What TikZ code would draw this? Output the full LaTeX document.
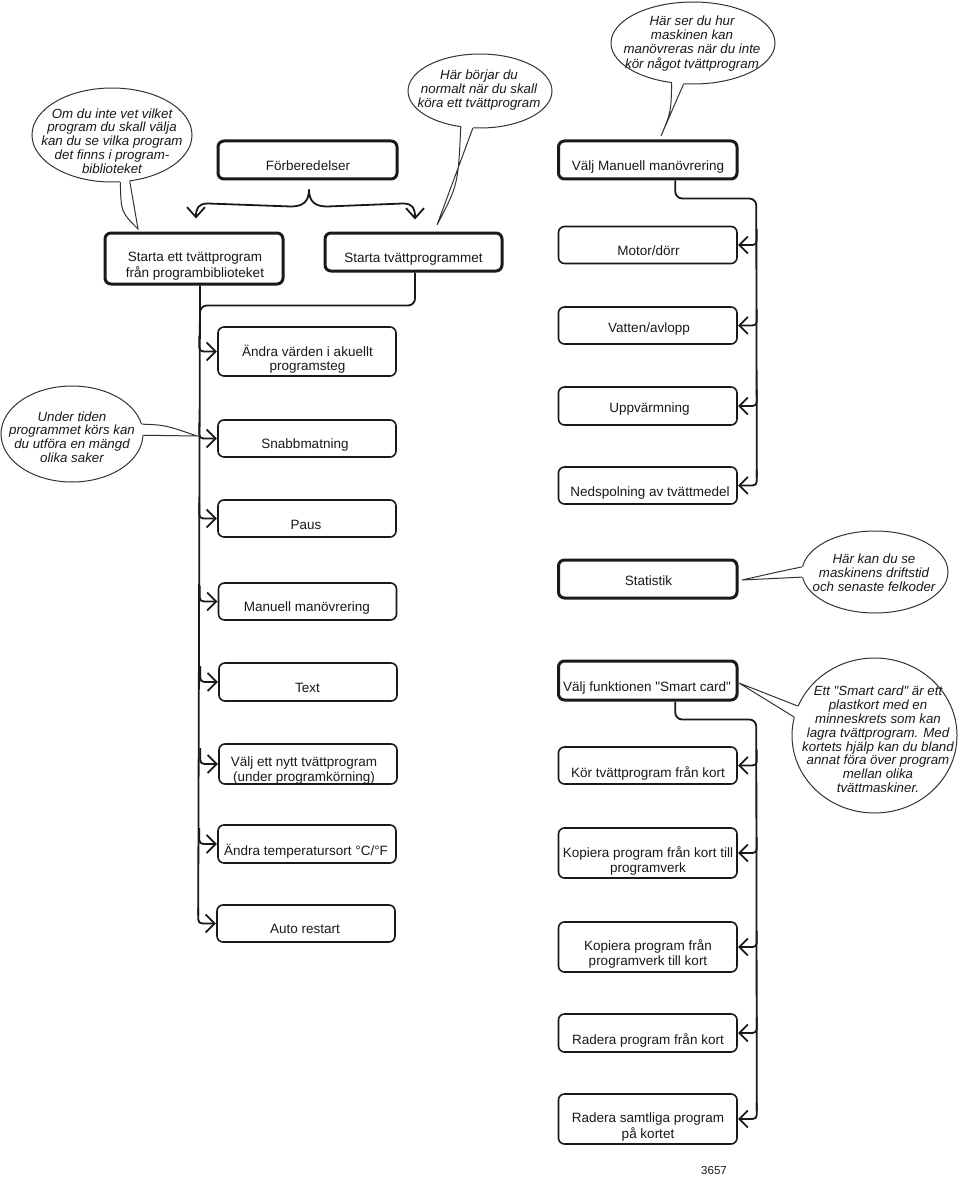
\documentclass[tikz,border=0pt]{standalone}
\usepackage{fontspec}
\setmainfont{Liberation Sans}[Ligatures=TeXOff]
\usetikzlibrary{arrows.meta,shapes.geometric,calc}
\tikzset{
  box/.style={draw=black!90, line width=1.6pt, rounded corners=6pt, minimum width=178.5pt, minimum height=37pt, inner sep=0pt, fill=white},
  boxthick/.style={box, line width=3pt},
  lbl/.style={inner sep=0pt, align=center, font=\fontsize{13.5}{13.8}\selectfont, text=black!90},
  btxt/.style={inner sep=0pt, align=center, font=\fontsize{13.3}{13.8}\selectfont\itshape, text=black!90},
  bub/.style={ellipse, draw=black!80, line width=1pt, fill=white, inner sep=0pt},
  bubline/.style={draw=black!80, line width=1pt},
  conn/.style={draw=black!90, line width=1.8pt, rounded corners=7pt},
  plain/.style={draw=black!90, line width=1.8pt},
  tipline/.style={draw=black!90, line width=1.8pt, line join=miter},
  arr/.style={draw=black!90, line width=1.8pt, -{Straight Barb[length=10pt,width=18pt]}},
}
\newcommand{\bubtail}[5]{%
  \fill[white] (#1.#2) -- (#4) -- (#1.#3) -- ($(#1.#3)!0.25!(#1.center)$) -- ($(#1.#2)!0.25!(#1.center)$) -- cycle;
  \draw[bubline] (#1.#2) .. controls (#5) .. (#4) -- (#1.#3);
}
\newcommand{\rbranch}[1]{%
  \draw[plain] ($(#1.east)+(19,-16)$) -- ($(#1.east)+(19,-9)$) .. controls ($(#1.east)+(19,0)$) .. ($(#1.east)+(10,0)$) -- ($(#1.east)+(1.5,0)$);
  \draw[tipline] ($(#1.east)+(10,-8.5)$) -- ($(#1.east)+(1.5,0)$) -- ($(#1.east)+(10,8.5)$);}
\newcommand{\lbranch}[1]{%
  \draw[plain] ($(#1.west)+(-18,-16)$) -- ($(#1.west)+(-18,-9)$) .. controls ($(#1.west)+(-18,0)$) .. ($(#1.west)+(-9,0)$) -- ($(#1.west)+(-1.5,0)$);
  \draw[tipline] ($(#1.west)+(-10.5,-9)$) -- ($(#1.west)+(-1.5,0)$) -- ($(#1.west)+(-10.5,9)$);}
\begin{document}
\begin{tikzpicture}[x=1pt,y=-1pt]
\fill[white] (0,0) rectangle (960,1177);
\useasboundingbox (0,0) rectangle (960,1177);

% ---------- speech bubbles ----------
\node[bub, minimum width=160pt, minimum height=94pt] (q1) at (112,135) {};
\coordinate (q1t) at (138,229);
\bubtail{q1}{280}{291}{q1t}{121,212}
\node[btxt] (q1x) at (112,143) {\strut Om du inte vet vilket\\\strut program du skall välja\\\strut kan du se vilka program\\\strut det finns i program-\\\strut biblioteket};

\node[bub, minimum width=144pt, minimum height=74pt] (q2) at (480,91) {};
\coordinate (q2t) at (437,225);
\bubtail{q2}{242}{259}{q2t}{458,185}
\node[btxt] (q2x) at (479,91) {\strut Här börjar du\\\strut normalt när du skall\\\strut köra ett tvättprogram};

\node[bub, minimum width=164pt, minimum height=82pt] (q3) at (693,43) {};
\coordinate (q3t) at (661,136);
\bubtail{q3}{242}{257.5}{q3t}{671,112}
\node[btxt] (q3x) at (692,44.5) {\strut Här ser du hur\\\strut maskinen kan\\\strut manövreras när du inte\\\strut kör något tvättprogram};

\node[bub, minimum width=142pt, minimum height=96pt] (q4) at (72,434) {};
\coordinate (q4t) at (197,436);
\bubtail{q4}{8}{-1}{q4t}{165,425}
\node[btxt] (q4x) at (72,439) {\strut Under tiden\\\strut programmet körs kan\\\strut du utföra en mängd\\\strut olika saker};

\node[bub, minimum width=146pt, minimum height=82pt] (q5) at (875,572) {};
\coordinate (q5t) at (742,580);
\bubtail{q5}{176.5}{184.7}{q5t}{782,571}
\node[btxt] (q5x) at (874,575) {\strut Här kan du se\\\strut maskinens driftstid\\\strut och senaste felkoder};

\node[bub, minimum width=165pt, minimum height=155pt] (q6) at (874.5,735.5) {};
\coordinate (q6t) at (739,683);
\bubtail{q6}{159.4}{167.5}{q6t}{768,694.5}
\node[btxt] (q6x) at (878,741.5) {\strut Ett "Smart card" är ett\\\strut plastkort med en\\\strut minneskrets som kan\\\strut lagra tvättprogram. Med\\\strut kortets hjälp kan du bland\\\strut annat föra över program\\\strut mellan olika\\\strut tvättmaskiner.};

% ---------- top boxes ----------
\node[boxthick, minimum width=179pt, minimum height=38pt] (fb) at (307.5,160) {};
\node[lbl] (fbt) at (308,168) {\strut Förberedelser};
\node[boxthick, minimum height=38pt] (vm) at (647.75,160) {};
\node[lbl] (vmt) at (648,168) {\strut Välj Manuell manövrering};
\node[boxthick, minimum width=178pt, minimum height=51pt] (se) at (194,258.5) {};
\node[lbl] (set) at (195,267) {\strut Starta ett tvättprogram\\\strut från programbiblioteket};
\node[boxthick, minimum width=177pt, minimum height=38pt] (stp) at (413.5,252) {};
\node[lbl] (stpt) at (413.5,260) {\strut Starta tvättprogrammet};

% ---------- right column, manual ----------
\node[box] (mot) at (647.75,245) {};
\node[lbl] (mott) at (648.5,253) {\strut Motor/dörr};
\node[box] (vat) at (647.75,325.5) {};
\node[lbl] (vatt) at (649,330) {\strut Vatten/avlopp};
\node[box, minimum height=38pt] (upp) at (647.75,406) {};
\node[lbl] (uppt) at (649.5,410) {\strut Uppvärmning};
\node[box] (ned) at (647.75,485.5) {};
\node[lbl] (nedt) at (650,494) {\strut Nedspolning av tvättmedel};
\node[boxthick, minimum height=38pt] (stat) at (647.75,579) {};
\node[lbl] (statt) at (648.5,583) {\strut Statistik};

% ---------- left column ----------
\node[box, minimum width=178pt, minimum height=49pt] (av) at (307,351.5) {};
\node[lbl] (avt) at (307.5,360) {\strut Ändra värden i akuellt\\\strut programsteg};
\node[box, minimum width=178pt] (sn) at (307,438.5) {};
\node[lbl] (snt) at (305,446) {\strut Snabbmatning};
\node[box, minimum width=178pt] (pa) at (307,518.5) {};
\node[lbl] (pat) at (306,527) {\strut Paus};
\node[box, minimum width=178pt] (mm) at (307.5,601.5) {};
\node[lbl] (mmt) at (307,609) {\strut Manuell manövrering};
\node[box, minimum width=178pt, minimum height=38pt] (tx) at (308,682) {};
\node[lbl] (txt) at (307.5,690) {\strut Text};
\node[box, minimum width=178pt, minimum height=40pt] (vn) at (308,764) {};
\node[lbl] (vnt) at (304,771) {\strut Välj ett nytt tvättprogram\\\strut (under programkörning)};
\node[box, minimum width=178pt, minimum height=38pt] (at) at (307,844) {};
\node[lbl] (att) at (306,852) {\strut Ändra temperatursort °C/°F};
\node[box, minimum width=178pt] (ar) at (306,923.5) {};
\node[lbl] (art) at (305,931) {\strut Auto restart};

% ---------- right column, smart card ----------
\node[boxthick, minimum height=39pt] (sc) at (647.75,680.5) {};
\node[lbl] (sct) at (647,689) {\strut Välj funktionen "Smart card"};
\node[box] (kt) at (647.75,765.5) {};
\node[lbl] (ktt) at (648,774) {\strut Kör tvättprogram från kort};
\node[box, minimum height=50pt] (k1) at (647.75,853) {};
\node[lbl] (k1t) at (648,862) {\strut Kopiera program från kort till\\\strut programverk};
\node[box, minimum height=50pt] (k2) at (647.75,947) {};
\node[lbl] (k2t) at (648,955) {\strut Kopiera program från\\\strut programverk till kort};
\node[box, minimum height=38pt] (r1) at (647.75,1033) {};
\node[lbl] (r1t) at (648,1041) {\strut Radera program från kort};
\node[box, minimum height=50pt] (r2) at (647.75,1119) {};
\node[lbl] (r2t) at (648,1128) {\strut Radera samtliga program\\\strut på kortet};

\node[inner sep=0pt, font=\fontsize{11.5}{12}\selectfont, text=black!90] (num) at (714,1171) {3657};

% ---------- connectors ----------
% brace under Förberedelser
\coordinate (brtop) at ($(fb.south)+(1.5,9)$);
\coordinate (brl) at ($(se.north)+(2,-13)$);
\coordinate (brr) at ($(stp.north)+(1.5,-12)$);
\draw[arr]
  (brtop) .. controls ($(brtop)+(0,12)$) and ($(brtop)+(-6,17)$) .. ($(brtop)+(-18,17)$)
  -- ($(brl)+(12,-15)$) .. controls ($(brl)+(2,-15)$) and ($(brl)+(0,-10)$) .. (brl);
\draw[arr]
  (brtop) .. controls ($(brtop)+(0,12)$) and ($(brtop)+(6,17)$) .. ($(brtop)+(18,17)$)
  -- ($(brr)+(-12,-16)$) .. controls ($(brr)+(-2,-16)$) and ($(brr)+(0,-11)$) .. (brr);

% left column trunk
\draw[conn] ($(stp.south)+(1.5,0)$) |- ($(se.south)+(6,20)$) -- ($(se.south)+(6,34)$);
\draw[conn] ($(se.south)+(6,0)$) -- ($(ar.west)+(-18,-8)$);
\foreach \b in {av,sn,pa,mm,tx,vn,at,ar} {\lbranch{\b}}

% right column, manual
\draw[conn] ($(vm.south)+(27.5,0)$) |- ($(vm.south)+(108.5,18)$) -- ($(ned.east)+(19,-8)$);
\foreach \b in {mot,vat,upp,ned} {\rbranch{\b}}

% right column, smart card
\draw[conn] ($(sc.south)+(27.5,0)$) |- ($(sc.south)+(108.5,18)$) -- ($(r2.east)+(19,-8)$);
\foreach \b in {kt,k1,k2,r1,r2} {\rbranch{\b}}
\end{tikzpicture}
\end{document}
